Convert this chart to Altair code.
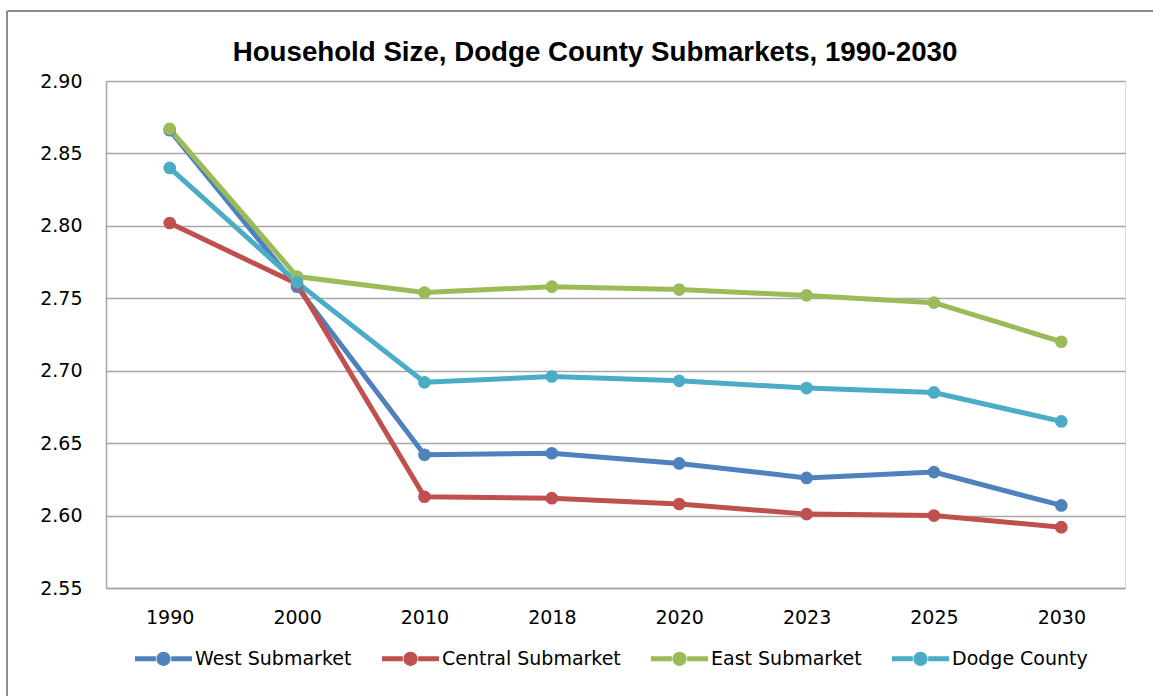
import altair as alt
import pandas as pd

title_text = "Household Size, Dodge County Submarkets, 1990-2030"
years = ["1990", "2000", "2010", "2018", "2020", "2023", "2025", "2030"]
series_names = ["West Submarket", "Central Submarket", "East Submarket", "Dodge County"]
west = [2.866, 2.758, 2.642, 2.643, 2.636, 2.626, 2.630, 2.607]
central = [2.802, 2.760, 2.613, 2.612, 2.608, 2.601, 2.600, 2.592]
east = [2.867, 2.765, 2.754, 2.758, 2.756, 2.752, 2.747, 2.720]
dodge = [2.840, 2.761, 2.692, 2.696, 2.693, 2.688, 2.685, 2.665]
colors = ["#4F81BD", "#C0504D", "#9BBB59", "#4BACC6"]
y_ticks = [2.55, 2.60, 2.65, 2.70, 2.75, 2.80, 2.85, 2.90]

rows = []
for name, vals in zip(series_names, [west, central, east, dodge]):
    for yr, v in zip(years, vals):
        rows.append({"Year": yr, "Series": name, "Value": v})
df = pd.DataFrame(rows)

FONT = "DejaVu Sans"
TITLE_FONT = "Liberation Sans"
W, H = 1019, 507

legend_symbol = ("M-1,-0.09H-0.27V0.09H-1Z "
                 "M0.27,-0.09H1V0.09H0.27Z "
                 "M0.25,0A0.25,0.25 0 1 1 -0.25,0A0.25,0.25 0 1 1 0.25,0Z")

x_enc = alt.X("Year:O", sort=years, title=None,
              axis=alt.Axis(labelAngle=0, ticks=False, labelPadding=20,
                            labelFontSize=19, labelColor="#000000", labelFont=FONT,
                            domainColor="#A6A6A6", domainWidth=1.5, grid=False))
y_enc = alt.Y("Value:Q", title=None,
              scale=alt.Scale(domain=[2.55, 2.90], nice=False, zero=False),
              axis=alt.Axis(values=y_ticks, format=".2f", ticks=False, labelPadding=24,
                            labelFontSize=19, labelColor="#000000", labelFont=FONT,
                            domainColor="#A6A6A6", domainWidth=1.5,
                            gridColor="#A6A6A6", gridWidth=1.5))
color_enc = alt.Color("Series:N", sort=series_names,
                      scale=alt.Scale(domain=series_names, range=colors),
                      legend=alt.Legend(title=None, orient="none", direction="horizontal",
                                        legendX=29, legendY=549,
                                        symbolType=legend_symbol, symbolSize=3249,
                                        symbolStrokeWidth=0, symbolOpacity=1,
                                        labelFontSize=19, labelFont=FONT, labelColor="#000000",
                                        labelLimit=400, labelOffset=3, columnPadding=30))

lines = alt.Chart(df).mark_line(strokeWidth=5).encode(x=x_enc, y=y_enc, color=color_enc,
                                                       detail="Series:N")
points = alt.Chart(df).mark_point(filled=True, size=160, opacity=1).encode(
    x=x_enc, y=y_enc, color=alt.Color("Series:N", sort=series_names,
                                      scale=alt.Scale(domain=series_names, range=colors),
                                      legend=None))

title_mark = alt.Chart(pd.DataFrame({"t": [title_text]})).mark_text(
    font=TITLE_FONT, fontSize=27.7, fontWeight="bold", color="#000000",
    align="center", baseline="alphabetic").encode(
    text="t:N", x=alt.value(489), y=alt.value(-20))

top_border = alt.Chart(df).mark_rule(color="#8C8C8C", strokeWidth=2).encode(
    x=alt.value(-99), x2=alt.value(1047), y=alt.value(-70))
left_border = alt.Chart(df).mark_rule(color="#8C8C8C", strokeWidth=1.5).encode(
    x=alt.value(-99), y=alt.value(-70), y2=alt.value(615))

chart = alt.layer(lines, points, title_mark, top_border, left_border).properties(
    width=W, height=H,
    autosize=alt.AutoSizeParams(type="none"),
    padding={"left": 106, "top": 81, "right": 28, "bottom": 108},
).configure_view(stroke="#A6A6A6", strokeWidth=1.5).configure(background="#FFFFFF")

chart.save("out.html", embed_options={"renderer": "svg", "actions": False})
